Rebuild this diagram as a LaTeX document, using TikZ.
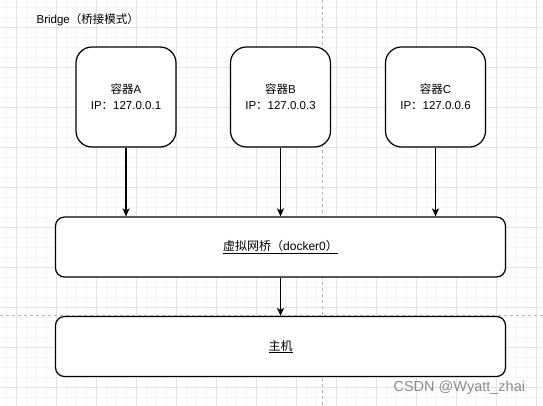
\documentclass[tikz,border=0pt]{standalone}
\usepackage{fontspec}
\setmainfont{Liberation Sans}
\newfontfamily\cjk{Noto Sans CJK SC}
\usepackage{tikz}
\usetikzlibrary{arrows.meta}

\begin{document}
\begin{tikzpicture}[x=1pt, y=-1pt, line width=1.2pt,
    minorgrid/.style={line width=0.6pt, color=black!4},
    majorgrid/.style={line width=0.6pt, color=black!11},
    pageline/.style={line width=0.7pt, color=black!30, dash pattern=on 3pt off 3pt},
    container/.style={draw, fill=white, rounded corners=16pt, minimum width=100pt,
        minimum height=100pt, align=center, font=\fontsize{11.5}{16}\selectfont},
    layer/.style={draw, fill=white, rounded corners=9pt, minimum width=450pt,
        minimum height=60pt, font=\fontsize{12}{14}\selectfont},
    arr/.style={-{Stealth[length=8pt, width=7pt, inset=2pt]}}]
    % fix the page
    \useasboundingbox (0, 0) rectangle (543, 406);
    \fill[white] (0, 0) rectangle (543, 406);

    % draw grid
    \foreach \gx in {6, 16, ..., 536} \draw[minorgrid] (\gx, 0) -- (\gx, 406);
    \foreach \gy in {7, 17, ..., 397} \draw[minorgrid] (0, \gy) -- (543, \gy);
    \foreach \gx in {16, 56, ..., 536} \draw[majorgrid] (\gx, 0) -- (\gx, 406);
    \foreach \gy in {27, 67, ..., 387} \draw[majorgrid] (0, \gy) -- (543, \gy);
    \draw[pageline] (322, 0) -- (322, 406);
    \draw[pageline] (0, 315) -- (543, 315);

    % draw title
    \node[anchor=west, inner sep=0pt, font=\fontsize{11.5}{13}\selectfont] (title) at (36, 20)
        {Bridge{\cjk （桥接模式）}};

    % draw containers
    \node[container] (contA) at (126, 97) {{\cjk 容器}A\\IP{\cjk ：}127.0.0.1};
    \node[container] (contB) at (280.5, 97) {{\cjk 容器}B\\IP{\cjk ：}127.0.0.3};
    \node[container] (contC) at (435.5, 97) {{\cjk 容器}C\\IP{\cjk ：}127.0.0.6};

    % draw bridge and host
    \node[layer] (bridge) at (280.5, 247) {\underline{{\cjk 虚拟网桥（}docker0{\cjk ）}}};
    \node[layer] (host) at (280.5, 346.5) {\underline{\cjk 主机}};

    % draw arrows
    \draw[arr] (contA) -- (contA |- bridge.north);
    \draw[arr] (contB) -- (contB |- bridge.north);
    \draw[arr] (contC) -- (contC |- bridge.north);
    \draw[arr] (bridge) -- (host);

    % draw watermark
    \node[anchor=west, inner sep=0pt, text=black!45, font=\fontsize{14.5}{16}\selectfont]
        (mark) at (393, 388) {CSDN @Wyatt\_zhai};
\end{tikzpicture}
\end{document}
